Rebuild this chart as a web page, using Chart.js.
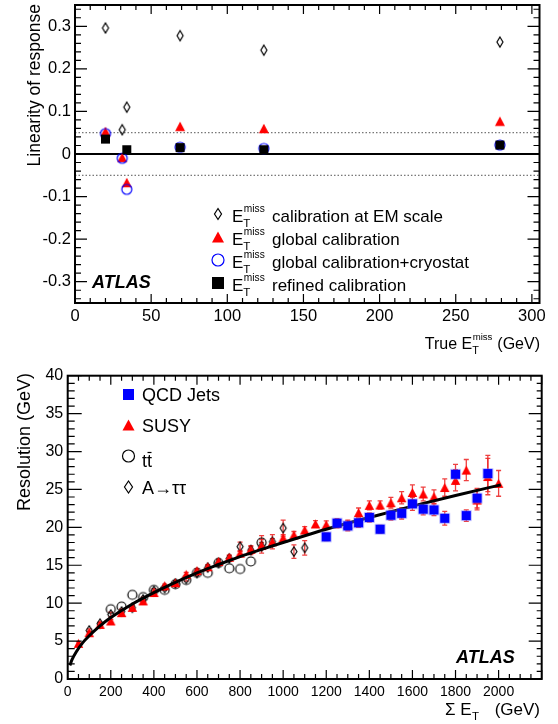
<!DOCTYPE html>
<html>
<head>
<meta charset="utf-8">
<script src="https://cdn.jsdelivr.net/npm/chart.js@4.4.1/dist/chart.umd.min.js"></script>
<style>
  body { margin: 0; background: #fff; width: 558px; height: 724px; overflow: hidden; position: relative; }
  canvas { position: absolute; left: 0; }
</style>
</head>
<body>
<canvas id="lin" width="558" height="360" style="top:0"></canvas>
<canvas id="res" width="558" height="364" style="top:360px"></canvas>
<script>
// ---- top panel: linearity of response ----
const linEnergy = [20, 31, 34, 69, 124, 279];
const linEmScale = [0.296, 0.057, 0.110, 0.278, 0.244, 0.263];
const linGlobal = [0.053, -0.008, -0.067, 0.065, 0.060, 0.077];
const linCryostat = [0.048, -0.010, -0.083, 0.016, 0.013, 0.021];
const linRefined = [0.035, null, 0.010, 0.015, 0.010, 0.021];
const linRefLines = [0.05, -0.05];
const linXTicks = [0, 50, 100, 150, 200, 250, 300];
const linYTicks = [0.3, 0.2, 0.1, 0, -0.1, -0.2, -0.3];
const linYLabels = ['0.3', '0.2', '0.1', '0', '-0.1', '-0.2', '-0.3'];
const linLegend = ['calibration at EM scale', 'global calibration', 'global calibration+cryostat', 'refined calibration'];

// ---- bottom panel: resolution vs sum ET ----
const qcdSumEt = [1200, 1250, 1300, 1350, 1400, 1450, 1500, 1550, 1600, 1650, 1700, 1750, 1800, 1850, 1900, 1950];
const qcdRes = [18.75, 20.55, 20.2, 20.6, 21.3, 19.75, 21.6, 21.85, 23.1, 22.4, 22.3, 21.2, 27.0, 21.55, 23.85, 27.1];
const qcdErr = [0.5, 0.6, 0.65, 0.6, 0.6, 0.5, 0.65, 0.75, 0.85, 0.75, 0.75, 0.9, 1.3, 0.75, 1.3, 2.4];

const susySumEt = [50, 100, 150, 200, 250, 300, 350, 400, 450, 500, 550, 600, 650, 700, 750, 800, 850, 900, 950, 1000,
  1050, 1100, 1150, 1200, 1250, 1300, 1350, 1400, 1450, 1500, 1550, 1600, 1650, 1700, 1750, 1800, 1850, 1900, 1950, 2000];
const susyRes = [4.7, 6.1, 7.2, 7.65, 8.75, 9.45, 10.3, 11.4, 12.3, 12.7, 13.8, 14.3, 14.8, 15.5, 16.05, 16.6, 17.1, 17.6, 18.1, 18.6,
  19.0, 19.65, 20.45, 20.35, 20.5, 20.4, 21.95, 22.9, 22.95, 23.25, 23.9, 24.6, 24.4, 24.05, 25.25, 26.2, 27.55, 23.6, 26.7, 25.8];
const susyErr = [0.2, 0.2, 0.2, 0.2, 0.2, 0.2, 0.2, 0.2, 0.2, 0.2, 0.25, 0.25, 0.25, 0.3, 0.3, 0.3, 0.35, 0.4, 0.4, 0.45,
  0.45, 0.45, 0.45, 0.5, 0.5, 0.55, 0.6, 0.6, 0.55, 0.7, 0.8, 1.0, 0.9, 0.9, 1.15, 1.4, 1.4, 1.3, 2.4, 1.7];

const ttbarSumEt = [200, 250, 300, 350, 400, 450, 500, 550, 600, 650, 700, 750, 800, 850, 900];
const ttbarRes = [9.2, 9.55, 11.1, 10.8, 11.75, 11.75, 12.5, 13.05, 14.0, 14.0, 15.3, 14.6, 14.5, 15.5, 18.0];
const ttbarErr = [0, 0, 0, 0, 0, 0, 0, 0, 0, 0, 0, 0, 0, 0, 0.9];

const atautauSumEt = [100, 150, 200, 250, 300, 350, 400, 450, 500, 550, 600, 650, 700, 750, 800, 850, 900, 950, 1000, 1050, 1100];
const atautauRes = [6.4, 7.3, 8.5, 8.9, 9.4, 10.5, 11.6, 12.0, 12.6, 13.2, 14.0, 14.7, 15.3, 15.9, 17.45, 17.0, 17.5, 18.1, 19.9, 16.8, 17.3];
const atautauErr = [0.2, 0.2, 0.3, 0.3, 0.4, 0.3, 0.3, 0.3, 0.3, 0.3, 0.35, 0.35, 0.4, 0.4, 0.6, 0.6, 0.9, 0.95, 1.05, 0.9, 0.95];

// fitted curve
const fitSumEt = [10, 20, 40, 70, 100, 150, 200, 300, 400, 500, 600, 700, 800, 900, 1000, 1200, 1400, 1600, 1800, 2010];
const fitRes = [1.8, 2.55, 3.6, 4.8, 5.7, 7.0, 8.1, 9.9, 11.4, 12.75, 14.0, 15.1, 16.15, 17.1, 18.0, 19.75, 21.3, 22.8, 24.2, 25.6];

const resXTicks = [0, 200, 400, 600, 800, 1000, 1200, 1400, 1600, 1800, 2000];
const resYTicks = [0, 5, 10, 15, 20, 25, 30, 35, 40];
const resLegend = ['QCD Jets', 'SUSY', 'tt', 'A\u2192\u03c4\u03c4'];

const FONT = '"Liberation Sans", Arial, Helvetica, sans-serif';
const RED = '#ff0000';
const BLUE = '#0000ff';

function setFont(ctx, size, style) {
    ctx.font = (style ? style + ' ' : '') + size + 'px ' + FONT;
}

function paintMarker(g, type, x, y, w, h, color) {
    g.save();
    g.fillStyle = color;
    g.strokeStyle = color;
    g.lineWidth = 1.2;
    if (type == 'square') {
        g.fillRect(x - w / 2, y - h / 2, w, h);
    } else if (type == 'bluesquare') {
        g.strokeStyle = 'rgba(110,110,255,0.6)';
        g.lineWidth = 1.5;
        g.strokeRect(x - w / 2, y - h / 2, w, h);
        g.fillRect(x - w / 2, y - h / 2, w, h);
    } else if (type == 'triangle') {
        g.beginPath();
        g.moveTo(x, y - h / 2);
        g.lineTo(x + w / 2, y + h / 2);
        g.lineTo(x - w / 2, y + h / 2);
        g.closePath();
        g.fill();
    } else if (type == 'circle') {
        g.beginPath();
        g.arc(x, y, w / 2, 0, 2 * Math.PI);
        g.stroke();
    } else if (type == 'diamond') {
        g.beginPath();
        g.moveTo(x, y - h / 2);
        g.lineTo(x + w / 2, y);
        g.lineTo(x, y + h / 2);
        g.lineTo(x - w / 2, y);
        g.closePath();
        g.stroke();
    }
    g.restore();
}

function marker(type, w, h, color) {
    let c = document.createElement('canvas');
    c.width = w + 4;
    c.height = h + 4;
    paintMarker(c.getContext('2d'), type, c.width / 2, c.height / 2, w, h, color);
    return c;
}

function points(xs, ys) {
    return xs.map((x, i) => ({ x: x, y: ys[i] })).filter(p => p.y !== null);
}

function hline(ctx, x1, x2, y) {
    ctx.beginPath();
    ctx.moveTo(x1, y);
    ctx.lineTo(x2, y);
    ctx.stroke();
}

// frame plus ROOT style ticks on all four sides
function drawFrame(chart, t) {
    const ctx = chart.ctx, a = chart.chartArea, sx = chart.scales.x, sy = chart.scales.y;
    ctx.save();
    ctx.strokeStyle = '#000';
    ctx.lineWidth = 1.2;
    ctx.beginPath();
    for (let i = t.xFrom; i <= t.xTo; i++) {
        let px = sx.getPixelForValue(i * t.xStep);
        let len = i % t.xMajor == 0 ? t.xMajLen : t.xMinLen;
        ctx.moveTo(px, a.bottom); ctx.lineTo(px, a.bottom - len);
        ctx.moveTo(px, a.top); ctx.lineTo(px, a.top + len);
    }
    for (let i = t.yFrom; i <= t.yTo; i++) {
        let py = sy.getPixelForValue(i * t.yStep);
        let major = i % t.yMajor == 0;
        ctx.moveTo(a.left, py); ctx.lineTo(a.left + (major ? t.yMajLen : t.yMinLen), py);
        ctx.moveTo(a.right, py); ctx.lineTo(a.right - (major ? t.yMajLenR : t.yMinLenR), py);
    }
    ctx.stroke();
    ctx.lineWidth = 2;
    ctx.strokeRect(a.left, a.top, a.right - a.left, a.bottom - a.top);
    ctx.restore();
}

function drawErrors(chart) {
    const ctx = chart.ctx, sy = chart.scales.y;
    ctx.save();
    ctx.strokeStyle = 'rgba(235,30,30,0.85)';
    ctx.lineWidth = 1.3;
    chart.data.datasets.forEach((ds, i) => {
        if (!ds.errors) return;
        chart.getDatasetMeta(i).data.forEach((pt, j) => {
            let v = ds.data[j].y, e = ds.errors[j];
            if (!e) return;
            let y1 = sy.getPixelForValue(v + e), y2 = sy.getPixelForValue(v - e);
            ctx.beginPath();
            ctx.moveTo(pt.x, y1); ctx.lineTo(pt.x, y2);
            ctx.moveTo(pt.x - 2.5, y1); ctx.lineTo(pt.x + 2.5, y1);
            ctx.moveTo(pt.x - 2.5, y2); ctx.lineTo(pt.x + 2.5, y2);
            ctx.stroke();
        });
    });
    ctx.restore();
}

// E_T^miss with sub/superscript, returns advance
function drawEtMiss(ctx, x, base, size) {
    setFont(ctx, size);
    ctx.textAlign = 'left';
    ctx.fillText('E', x, base);
    let w = ctx.measureText('E').width;
    setFont(ctx, size * 0.6);
    ctx.fillText('miss', x + w + 0.5, base - size * 0.58);
    let wm = ctx.measureText('miss').width;
    setFont(ctx, size * 0.68);
    ctx.fillText('T', x + w, base + size * 0.3);
    return w + wm + 1;
}

const linTicks = {
    xFrom: 0, xTo: 30, xStep: 10, xMajor: 5, xMajLen: 9, xMinLen: 5,
    yFrom: -17, yTo: 17, yStep: 0.02, yMajor: 5, yMajLen: 12, yMinLen: 6, yMajLenR: 12, yMinLenR: 6
};

const linDecor = {
    id: 'linDecor',
    beforeDatasetsDraw(chart) {
        const ctx = chart.ctx, a = chart.chartArea, sy = chart.scales.y;
        ctx.save();
        ctx.strokeStyle = '#000';
        ctx.lineWidth = 2;
        hline(ctx, a.left, a.right, sy.getPixelForValue(0));
        ctx.strokeStyle = '#555';
        ctx.lineWidth = 1;
        ctx.setLineDash([1.5, 2]);
        linRefLines.forEach(v => hline(ctx, a.left, a.right, sy.getPixelForValue(v)));
        ctx.restore();
    },
    afterDatasetsDraw(chart) {
        const ctx = chart.ctx, a = chart.chartArea, sx = chart.scales.x, sy = chart.scales.y;
        drawFrame(chart, linTicks);
        ctx.save();
        ctx.fillStyle = '#000';
        setFont(ctx, 16.5);
        ctx.textAlign = 'right';
        ctx.textBaseline = 'middle';
        linYTicks.forEach((v, i) => ctx.fillText(linYLabels[i], a.left - 4, sy.getPixelForValue(v)));
        ctx.textAlign = 'center';
        linXTicks.forEach(v => ctx.fillText(String(v), sx.getPixelForValue(v), 316));

        // axis titles
        ctx.textBaseline = 'alphabetic';
        ctx.save();
        ctx.translate(40, 4);
        ctx.rotate(-Math.PI / 2);
        setFont(ctx, 17.5);
        ctx.textAlign = 'right';
        ctx.fillText('Linearity of response', 0, 0);
        ctx.restore();

        setFont(ctx, 16);
        let wTrue = ctx.measureText('True ').width;
        let wGev = ctx.measureText(' (GeV)').width;
        let wE = ctx.measureText('E').width;
        setFont(ctx, 9.6);
        let wEt = wE + ctx.measureText('miss').width + 1;
        let x0 = 540 - wTrue - wEt - wGev;
        setFont(ctx, 16);
        ctx.textAlign = 'left';
        ctx.fillText('True ', x0, 349);
        drawEtMiss(ctx, x0 + wTrue, 349, 16);
        setFont(ctx, 16);
        ctx.textAlign = 'left';
        ctx.fillText(' (GeV)', x0 + wTrue + wEt, 349);

        // legend
        const types = [['diamond', 7, 11, '#000'], ['triangle', 12, 11, RED], ['circle', 12, 12, BLUE], ['square', 12, 12, '#000']];
        const rows = [214, 237, 260, 283];
        linLegend.forEach((label, i) => {
            let t = types[i];
            paintMarker(ctx, t[0], 218, rows[i], t[1], t[2], t[3]);
            ctx.fillStyle = '#000';
            drawEtMiss(ctx, 232, rows[i] + 8, 17);
            setFont(ctx, 17);
            ctx.textAlign = 'left';
            ctx.fillText(label, 272, rows[i] + 8);
        });

        setFont(ctx, 18, 'bold italic');
        ctx.textAlign = 'left';
        ctx.fillText('ATLAS', 92, 288);
        ctx.restore();
    }
};

new Chart(document.getElementById('lin'), {
    type: 'scatter',
    data: {
        datasets: [
            { label: 'refined', data: points(linEnergy, linRefined), pointStyle: marker('square', 9, 9, '#000'), order: 0 },
            { label: 'cryostat', data: points(linEnergy, linCryostat), pointStyle: marker('circle', 10, 10, BLUE), order: 1 },
            { label: 'global', data: points(linEnergy, linGlobal), pointStyle: marker('triangle', 10, 9.5, RED), order: 2 },
            { label: 'EM scale', data: points(linEnergy, linEmScale), pointStyle: marker('diamond', 6, 10, '#000'), order: 3 }
        ]
    },
    options: {
        responsive: false,
        animation: false,
        events: [],
        layout: { padding: { left: 75, top: 5, right: 18.5, bottom: 57 } },
        scales: {
            x: { type: 'linear', display: false, min: 0, max: 305 },
            y: { type: 'linear', display: false, min: -0.35, max: 0.35 }
        },
        plugins: { legend: { display: false }, tooltip: { enabled: false } }
    },
    plugins: [linDecor]
});

const resTicks = {
    xFrom: 0, xTo: 44, xStep: 50, xMajor: 4, xMajLen: 9, xMinLen: 5,
    yFrom: 0, yTo: 40, yStep: 1, yMajor: 5, yMajLen: 14, yMinLen: 7, yMajLenR: 13, yMinLenR: 5
};

const resDecor = {
    id: 'resDecor',
    beforeDatasetsDraw(chart) {
        drawErrors(chart);
    },
    afterDatasetsDraw(chart) {
        const ctx = chart.ctx, a = chart.chartArea, sx = chart.scales.x, sy = chart.scales.y;
        drawFrame(chart, resTicks);
        ctx.save();
        ctx.fillStyle = '#000';
        setFont(ctx, 16);
        ctx.textAlign = 'right';
        ctx.textBaseline = 'middle';
        resYTicks.forEach(v => ctx.fillText(String(v), a.left - 4.5, sy.getPixelForValue(v)));
        setFont(ctx, 14);
        ctx.textAlign = 'center';
        resXTicks.forEach(v => ctx.fillText(String(v), sx.getPixelForValue(v), 332));

        ctx.textBaseline = 'alphabetic';
        ctx.save();
        ctx.translate(30, 13);
        ctx.rotate(-Math.PI / 2);
        setFont(ctx, 18);
        ctx.textAlign = 'right';
        ctx.fillText('Resolution (GeV)', 0, 0);
        ctx.restore();

        // x title: sum E_T (GeV)
        setFont(ctx, 17);
        ctx.textAlign = 'right';
        ctx.fillText('(GeV)', 540, 355);
        ctx.textAlign = 'left';
        ctx.fillText('\u03a3 E', 445, 355);
        let wSE = ctx.measureText('\u03a3 E').width;
        setFont(ctx, 11.5);
        ctx.fillText('T', 445 + wSE + 0.5, 360);

        // legend
        const types = [['square', 11, 11, BLUE], ['triangle', 12, 11, RED], ['circle', 12, 12, '#000'], ['diamond', 8, 12, '#000']];
        const rows = [34.5, 65, 96, 127];
        resLegend.forEach((label, i) => {
            let t = types[i];
            paintMarker(ctx, t[0], 128.5, rows[i], t[1], t[2], t[3]);
            ctx.fillStyle = '#000';
            setFont(ctx, 18);
            ctx.textAlign = 'left';
            let base = rows[i] + (i == 2 ? 11 : 6.5);
            ctx.fillText(label, 142, base);
            if (i == 2) {
                let w1 = ctx.measureText('t').width;
                ctx.strokeStyle = '#000';
                ctx.lineWidth = 1.2;
                hline(ctx, 142 + w1 + 0.5, 142 + 2 * w1 - 0.5, base - 14.5);
            }
        });

        setFont(ctx, 18, 'bold italic');
        ctx.textAlign = 'left';
        ctx.fillText('ATLAS', 456, 302.5);
        ctx.restore();
    }
};

new Chart(document.getElementById('res'), {
    type: 'scatter',
    data: {
        datasets: [
            { label: 'QCD Jets', data: points(qcdSumEt, qcdRes), errors: qcdErr, pointStyle: marker('bluesquare', 9, 9, BLUE), order: 0 },
            { type: 'line', label: 'fit', data: points(fitSumEt, fitRes), showLine: true, borderColor: '#000', borderWidth: 3,
              pointRadius: 0, cubicInterpolationMode: 'monotone', fill: false, order: 1 },
            { label: 'SUSY', data: points(susySumEt, susyRes), errors: susyErr, pointStyle: marker('triangle', 9.5, 9, RED), order: 2 },
            { label: 'ttbar', data: points(ttbarSumEt, ttbarRes), errors: ttbarErr, pointStyle: marker('circle', 9, 9, '#000'), order: 3 },
            { label: 'A tautau', data: points(atautauSumEt, atautauRes), errors: atautauErr, pointStyle: marker('diamond', 6, 9.5, '#000'), order: 4 }
        ]
    },
    options: {
        responsive: false,
        animation: false,
        events: [],
        layout: { padding: { left: 67.7, top: 15.7, right: 16.3, bottom: 45 } },
        scales: {
            x: { type: 'linear', display: false, min: 0, max: 2200 },
            y: { type: 'linear', display: false, min: 0, max: 40 }
        },
        plugins: { legend: { display: false }, tooltip: { enabled: false } }
    },
    plugins: [resDecor]
});
</script>
</body>
</html>
